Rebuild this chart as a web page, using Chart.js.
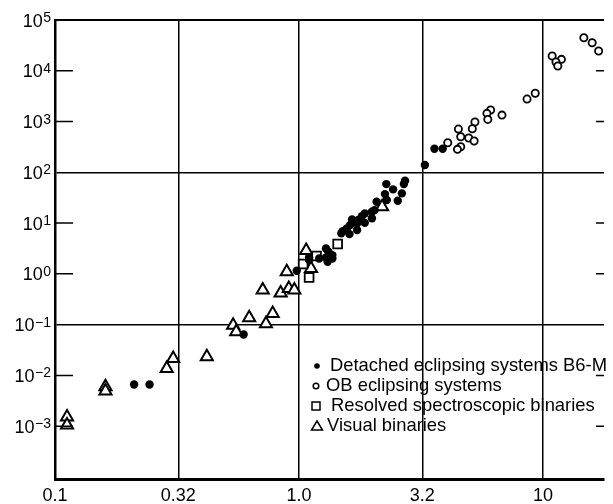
<!DOCTYPE html>
<html>
<head>
<meta charset="utf-8">
<script src="https://cdn.jsdelivr.net/npm/chart.js@4.4.1/dist/chart.umd.min.js"></script>
<style>
  body { margin: 0; background: #fff; }
  canvas { display: block; }
</style>
</head>
<body>
<canvas id="myChart" width="613" height="504"></canvas>
<script>
// Mass (solar units) and luminosity (solar units)
const detachedMass = [0.211, 0.244, 0.593, 0.979, 1.10, 1.10, 1.21, 1.29, 1.32, 1.37, 1.29, 1.37, 1.31,
    1.49, 1.51, 1.57, 1.62, 1.61, 1.65, 1.73, 1.73, 1.75, 1.81, 1.86, 1.86, 1.99, 1.99, 2.04, 2.08,
    2.29, 2.54, 2.25, 2.64, 2.43, 2.28, 2.69, 2.72, 3.28, 3.59, 3.88];
const detachedLum = [0.0066, 0.0066, 0.064, 1.15, 1.87, 2.11, 2.01, 3.17, 2.72, 2.34, 2.11, 2.01, 1.73,
    6.27, 6.95, 7.85, 9.14, 6.07, 11.8, 9.86, 7.28, 11.5, 13.7, 15.5, 10.1, 16.7, 12.4, 18.0, 26.3,
    28.4, 27.5, 37.2, 38.5, 46.1, 58.6, 58.6, 68.1, 139, 291, 291];

const obMass = [14.7, 15.9, 16.9, 10.9, 11.9, 11.3, 11.5, 9.29, 8.60, 6.79, 6.10, 5.89, 5.94, 5.26,
    5.13, 4.50, 4.60, 4.96, 5.22, 4.07, 4.60, 4.46];
const obLum = [44800, 35700, 24500, 19500, 16800, 14900, 12400, 3600, 2770, 1340, 1690, 1450, 1100, 977,
    721, 711, 501, 473, 413, 382, 318, 283];

const spectroMass = [1.44, 1.18, 1.04, 1.10];
const spectroLum = [3.86, 2.24, 1.56, 0.851];

const visualMass = [0.112, 0.112, 0.161, 0.161, 0.287, 0.305, 0.419, 0.537, 0.553, 0.625, 0.732, 0.780,
    0.710, 0.841, 0.908, 0.957, 0.891, 1.12, 1.07, 2.19];
const visualLum = [0.00152, 0.00105, 0.00594, 0.00490, 0.0137, 0.0216, 0.0232, 0.0977, 0.0721, 0.137,
    0.104, 0.166, 0.479, 0.418, 0.517, 0.479, 1.10, 1.28, 2.87, 20.9];

const legendLabels = ['Detached eclipsing systems B6-M', 'OB eclipsing systems',
    'Resolved spectroscopic binaries', 'Visual binaries'];

const xTicks = [0.1, 0.32, 1.0, 3.2, 10];
const xTickLabels = ['0.1', '0.32', '1.0', '3.2', '10'];
const yTicks = [1e-3, 1e-2, 1e-1, 1e0, 1e1, 1e2, 1e3, 1e4, 1e5];
const yTickExponents = ['−3', '−2', '−1', '0', '1', '2', '3', '4', '5'];
const yGridAt = [1e-1, 1e2];

const fontFamily = "'Liberation Sans', Arial, sans-serif";
const labelFont = { family: fontFamily, size: 18 };

function toPoints(xs, ys) {
    return xs.map((x, i) => ({ x: x, y: ys[i] }));
}

// frame, inner tick marks, power-of-ten labels and the legend block
const framePlugin = {
    id: 'frame',
    afterDraw(chart) {
        const ctx = chart.ctx;
        const area = chart.chartArea;
        const yScale = chart.scales.y;
        ctx.save();
        ctx.strokeStyle = '#000';
        ctx.fillStyle = '#000';
        ctx.lineWidth = 2;
        ctx.beginPath();
        ctx.moveTo(area.left, area.top);
        ctx.lineTo(area.right, area.top);
        ctx.stroke();

        ctx.lineWidth = 1.5;
        yTicks.forEach((v, i) => {
            const py = yScale.getPixelForValue(v);
            // y labels: 10 with a raised exponent
            ctx.textAlign = 'right';
            ctx.textBaseline = 'alphabetic';
            ctx.font = '14px ' + fontFamily;
            const expW = ctx.measureText(yTickExponents[i]).width;
            const rightX = area.left - 4;
            ctx.fillText(yTickExponents[i], rightX, py + 2);
            ctx.font = '18px ' + fontFamily;
            ctx.fillText('10', rightX - expW - 0.5, py + 6.5);

            if (yGridAt.includes(v) || v === 1e5) return;
            ctx.beginPath();
            ctx.moveTo(area.left, py);
            ctx.lineTo(area.left + 18, py);
            ctx.moveTo(area.right - 8, py);
            ctx.lineTo(area.right, py);
            ctx.stroke();
        });

        // legend
        const lx = area.left + 262;
        const ly = 366;
        const textX = [330, 326, 331, 327];
        ctx.font = '18.4px ' + fontFamily;
        ctx.textBaseline = 'middle';
        ctx.textAlign = 'left';
        legendLabels.forEach((label, i) => {
            const my = ly + i * 20;
            ctx.lineWidth = 1.5;
            ctx.beginPath();
            if (i === 0) {
                ctx.arc(lx, my, 2.8, 0, Math.PI * 2);
                ctx.fill();
            } else if (i === 1) {
                ctx.arc(lx - 1, my, 2.8, 0, Math.PI * 2);
                ctx.stroke();
            } else if (i === 2) {
                ctx.rect(lx - 5, my - 4, 8, 8);
                ctx.stroke();
            } else {
                ctx.moveTo(lx, my - 5);
                ctx.lineTo(lx + 5.5, my + 4);
                ctx.lineTo(lx - 5.5, my + 4);
                ctx.closePath();
                ctx.stroke();
            }
            ctx.fillText(label, textX[i], my);
        });
        ctx.restore();
    }
};

const data = {
    datasets: [
        {
            label: legendLabels[0],
            data: toPoints(detachedMass, detachedLum),
            pointStyle: 'circle',
            pointRadius: 4.2,
            backgroundColor: '#000',
            borderColor: '#000',
            borderWidth: 0
        },
        {
            label: legendLabels[1],
            data: toPoints(obMass, obLum),
            pointStyle: 'circle',
            pointRadius: 3.6,
            backgroundColor: '#fff',
            borderColor: '#000',
            borderWidth: 1.8
        },
        {
            label: legendLabels[2],
            data: toPoints(spectroMass, spectroLum),
            pointStyle: 'rect',
            pointRadius: 6.2,
            backgroundColor: '#fff',
            borderColor: '#000',
            borderWidth: 1.8
        },
        {
            label: legendLabels[3],
            data: toPoints(visualMass, visualLum),
            pointStyle: 'triangle',
            pointRadius: 7,
            backgroundColor: '#fff',
            borderColor: '#000',
            borderWidth: 2
        }
    ]
};

const config = {
    type: 'scatter',
    data,
    options: {
        responsive: false,
        animation: false,
        layout: { padding: { top: 20, right: 0, left: 0, bottom: 0 } },
        scales: {
            x: {
                type: 'logarithmic',
                min: 0.1,
                max: 17.78,
                afterBuildTicks: scale => { scale.ticks = xTicks.map(v => ({ value: v })); },
                afterFit: scale => { scale.height = 25; },
                ticks: {
                    autoSkip: false,
                    maxRotation: 0,
                    padding: 6,
                    color: '#000',
                    font: labelFont,
                    callback: (value, index) => xTickLabels[index]
                },
                grid: {
                    drawTicks: false,
                    color: '#000',
                    lineWidth: 1.5
                },
                border: { display: true, color: '#000', width: 3 }
            },
            y: {
                type: 'logarithmic',
                min: 9.1e-5,
                max: 1e5,
                afterBuildTicks: scale => { scale.ticks = yTicks.map(v => ({ value: v })); },
                afterFit: scale => { scale.width = 55; },
                ticks: { display: false },
                grid: {
                    drawTicks: false,
                    color: ctx => (ctx.tick && yGridAt.includes(ctx.tick.value)) ? '#000' : 'rgba(0,0,0,0)',
                    lineWidth: 1.5
                },
                border: { display: true, color: '#000', width: 2.5 }
            }
        },
        plugins: {
            legend: { display: false },
            tooltip: { enabled: false }
        }
    },
    plugins: [framePlugin]
};

window.myChart = new Chart(document.getElementById('myChart'), config);
</script>
</body>
</html>
